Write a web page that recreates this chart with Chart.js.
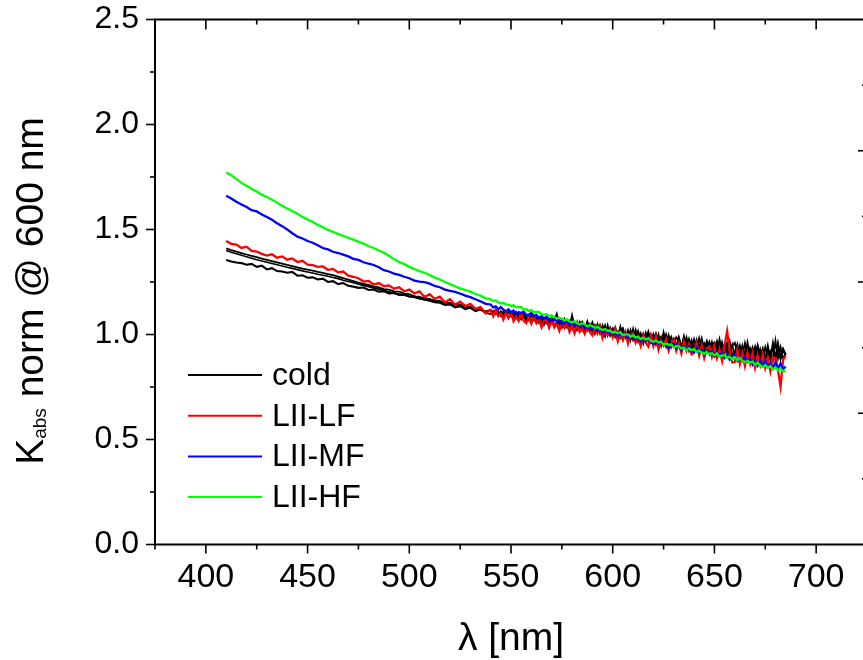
<!DOCTYPE html>
<html><head><meta charset="utf-8">
<script src="https://cdn.jsdelivr.net/npm/chart.js@4.4.1/dist/chart.umd.min.js"></script>
<style>
html,body{margin:0;padding:0;background:#fff;overflow:hidden;}
#wrap{width:863px;height:660px;overflow:hidden;position:relative;background:#fff;}
canvas{display:block;}
</style></head><body>
<div id="wrap"><canvas id="c" width="880" height="660" style="width:880px;height:660px"></canvas></div>
<script>
const wavelength = [
410,412.5,415,417.5,420,422.5,425,427.5,430,432.5,
435,437.5,440,442.5,445,447.5,450,452.5,455,457.5,
460,462.5,465,467.5,470,472.5,475,477.5,480,482.5,
485,487.5,490,492.5,495,497.5,500,502.5,505,507.5,
510,512.5,515,517.5,520,522.5,525,527.5,530,532.5,
535,537.5,
540,541.25,542.5,543.75,545,546.25,547.5,548.75,
550,551.25,552.5,553.75,555,556.25,557.5,558.75,
560,561.25,562.5,563.75,565,566.25,567.5,568.75,
570,571.25,572.5,573.75,575,576.25,577.5,578.75,
580,581.25,582.5,583.75,585,586.25,587.5,588.75,
590,591.25,592.5,593.75,595,596.25,597.5,598.75,
600,601.25,602.5,603.75,605,606.25,607.5,608.75,
610,611.25,612.5,613.75,615,616.25,617.5,618.75,
620,621.25,622.5,623.75,625,626.25,627.5,628.75,
630,631.25,632.5,633.75,635,636.25,637.5,638.75,
640,641.25,642.5,643.75,645,646.25,647.5,648.75,
650,651.25,652.5,653.75,655,656.25,657.5,658.75,
660,661.25,662.5,663.75,665,666.25,667.5,668.75,
670,671.25,672.5,673.75,675,676.25,677.5,678.75,
680,681.25,682.5,683.75,685];

const liiHF = [
1.772,1.758,1.741,1.722,1.708,1.693,1.681,1.666,1.655,1.642,
1.628,1.612,1.600,1.588,1.575,1.560,1.548,1.536,1.522,1.511,
1.498,1.489,1.478,1.470,1.460,1.452,1.442,1.433,1.420,1.412,
1.400,1.389,1.375,1.358,1.345,1.335,1.322,1.312,1.302,1.294,
1.283,1.271,1.262,1.250,1.240,1.229,1.220,1.212,1.204,1.193,
1.185,1.172,
1.167,1.159,1.162,1.154,1.148,1.151,1.143,1.142,
1.136,1.139,1.129,1.130,1.130,1.118,1.120,1.112,
1.115,1.105,1.108,1.108,1.097,1.095,1.097,1.085,
1.091,1.082,1.076,1.080,1.075,1.067,1.073,1.062,
1.058,1.063,1.054,1.048,1.054,1.049,1.039,1.044,
1.040,1.031,1.037,1.027,1.021,1.026,1.018,1.019,
1.009,1.013,1.006,1.011,0.997,1.001,1.001,0.989,
0.997,0.986,0.989,0.978,0.985,0.976,0.982,0.969,
0.965,0.971,0.962,0.966,0.951,0.957,0.950,0.952,
0.938,0.944,0.944,0.933,0.938,0.925,0.934,0.925,
0.931,0.917,0.923,0.915,0.908,0.917,0.907,0.911,
0.901,0.910,0.894,0.900,0.901,0.889,0.894,0.882,
0.892,0.878,0.889,0.875,0.868,0.875,0.866,0.871,
0.856,0.866,0.853,0.845,0.855,0.843,0.850,0.834,
0.844,0.830,0.839,0.823,0.830];

const liiMF = [
1.661,1.648,1.632,1.619,1.607,1.592,1.586,1.571,1.560,1.546,
1.530,1.516,1.500,1.482,1.466,1.457,1.445,1.437,1.425,1.412,
1.405,1.394,1.388,1.380,1.372,1.360,1.355,1.344,1.337,1.331,
1.320,1.306,1.300,1.290,1.284,1.275,1.268,1.257,1.252,1.249,
1.242,1.231,1.225,1.214,1.208,1.203,1.195,1.185,1.178,1.168,
1.158,1.146,
1.143,1.129,1.134,1.120,1.131,1.119,1.110,1.120,
1.105,1.114,1.098,1.107,1.101,1.108,1.093,1.094,
1.102,1.087,1.093,1.077,1.089,1.076,1.084,1.066,
1.064,1.076,1.061,1.068,1.051,1.061,1.062,1.047,
1.058,1.041,1.050,1.039,1.049,1.030,1.037,1.028,
1.026,1.036,1.018,1.028,1.009,1.021,1.011,1.019,
1.000,1.012,0.993,1.008,0.994,1.006,0.984,0.994,
0.997,0.977,0.987,0.969,0.984,0.969,0.982,0.963,
0.956,0.971,0.956,0.969,0.949,0.957,0.938,0.957,
0.955,0.934,0.946,0.926,0.944,0.927,0.942,0.920,
0.917,0.936,0.916,0.927,0.904,0.922,0.908,0.920,
0.896,0.915,0.900,0.914,0.889,0.903,0.881,0.900,
0.901,0.874,0.892,0.873,0.893,0.870,0.884,0.856,
0.877,0.852,0.876,0.853,0.874,0.846,0.861,0.839,
0.868,0.837,0.862,0.836,0.847];

const liiLF = [
1.445,1.432,1.428,1.412,1.418,1.398,1.395,1.384,1.376,1.382,
1.366,1.372,1.356,1.362,1.345,1.351,1.333,1.330,1.322,1.324,
1.308,1.312,1.296,1.300,1.280,1.275,1.268,1.252,1.255,1.238,
1.245,1.230,1.234,1.218,1.225,1.206,1.214,1.196,1.205,1.178,
1.192,1.170,1.180,1.152,1.168,1.142,1.156,1.136,1.146,1.122,
1.130,1.100,
1.117,1.088,1.120,1.090,1.100,1.071,1.104,1.078,
1.103,1.063,1.087,1.065,1.099,1.065,1.054,1.081,
1.052,1.087,1.055,1.074,1.034,1.065,1.070,1.032,
1.070,1.034,1.052,1.017,1.055,1.031,1.055,1.013,
1.042,1.006,1.055,1.013,1.031,1.003,1.037,1.012,
0.996,1.034,1.005,1.035,0.983,1.019,1.000,1.022,
0.986,1.023,0.968,1.003,0.973,1.011,0.957,1.000,
1.006,0.962,0.990,0.946,0.994,0.961,0.943,0.995,
0.945,0.989,0.928,0.972,0.948,0.977,0.923,0.958,
0.974,0.922,0.958,0.910,0.964,0.922,0.954,0.906,
0.912,0.958,0.900,0.946,0.888,0.931,0.943,0.895,
0.943,0.887,0.927,0.874,0.949,1.015,0.920,0.867,
0.869,0.927,0.860,0.910,0.850,0.911,0.861,0.910,
0.842,0.900,0.855,0.907,0.841,0.887,0.826,0.894,
0.885,0.830,0.752,0.880,0.898];

const coldRunA = [
1.410,1.402,1.395,1.388,1.381,1.374,1.368,1.361,1.355,1.349,
1.343,1.337,1.331,1.326,1.320,1.314,1.309,1.304,1.298,1.293,
1.288,1.283,1.276,1.268,1.261,1.254,1.247,1.241,1.236,1.228,
1.224,1.216,1.214,1.205,1.204,1.195,1.192,1.182,1.180,1.170,
1.170,1.158,1.160,1.146,1.150,1.136,1.140,1.126,1.130,1.118,
1.122,1.108,
1.116,1.098,1.118,1.100,1.091,1.109,1.093,1.107,
1.087,1.105,1.077,1.095,1.101,1.074,1.086,1.068,
1.092,1.068,1.084,1.056,1.076,1.056,1.084,1.058,
1.052,1.068,1.099,1.045,1.071,1.039,1.060,1.034,
1.092,1.038,1.058,1.024,1.050,1.024,1.056,1.024,
1.058,1.018,1.043,1.005,1.044,1.012,1.003,1.033,
1.002,1.034,0.992,1.018,1.031,0.987,1.007,0.979,
1.015,0.979,1.017,0.979,1.004,0.968,1.014,0.974,
0.968,1.004,0.958,0.988,0.953,1.001,0.963,0.989,
0.949,0.987,0.969,0.939,0.992,0.944,0.972,0.934,
0.978,0.932,0.983,0.935,0.958,0.920,0.966,0.933,
0.923,0.968,0.914,0.957,0.923,0.960,0.906,0.945,
0.961,0.911,0.948,0.896,0.959,0.901,0.935,0.886,
0.942,0.893,0.931,0.882,0.940,0.895,0.919,0.878,
0.970,0.886,0.940,0.884,0.910];

const coldRunB = [
1.400,1.392,1.384,1.377,1.370,1.363,1.356,1.350,1.344,1.338,
1.332,1.326,1.320,1.315,1.309,1.303,1.298,1.293,1.287,1.282,
1.277,1.271,1.266,1.258,1.252,1.246,1.240,1.234,1.228,1.222,
1.216,1.210,1.204,1.198,1.193,1.187,1.182,1.176,1.170,1.165,
1.160,1.152,1.150,1.140,1.142,1.128,1.134,1.120,1.126,1.110,
1.118,1.102,
1.097,1.113,1.097,1.111,1.088,1.102,1.104,1.084,
1.102,1.082,1.100,1.072,1.086,1.091,1.067,1.083,
1.061,1.085,1.063,1.083,1.051,1.073,1.053,1.077,
1.071,1.039,1.060,1.070,1.038,1.064,1.033,1.055,
1.029,1.059,1.029,1.061,1.019,1.045,1.019,1.049,
1.011,1.045,1.014,1.046,1.003,1.045,0.994,1.020,
1.029,0.987,1.013,0.985,1.022,0.986,1.022,0.972,
1.028,0.976,1.006,0.962,0.997,0.965,1.003,0.963,
1.001,0.953,1.001,0.955,0.986,0.942,0.998,0.952,
0.980,0.936,0.984,0.942,0.969,0.925,0.979,0.933,
0.935,0.977,0.924,0.960,0.915,0.965,0.923,0.966,
0.912,0.955,0.915,0.964,0.908,0.947,0.897,0.952,
0.902,0.946,0.893,0.949,0.902,0.950,0.890,0.935,
0.891,0.946,0.884,0.933,0.879,0.936,0.884,0.949,
0.885,0.961,0.889,0.933,0.907];

const coldRunC = [
1.355,1.348,1.343,1.340,1.332,1.336,1.322,1.328,1.310,1.316,
1.302,1.300,1.294,1.298,1.280,1.282,1.270,1.272,1.262,1.266,
1.250,1.254,1.240,1.245,1.232,1.228,1.222,1.224,1.212,1.214,
1.204,1.206,1.196,1.198,1.188,1.190,1.180,1.182,1.172,1.175,
1.165,1.160,1.156,1.152,1.148,1.140,1.142,1.130,1.132,1.118,
1.124,1.108,
1.116,1.094,1.108,1.088,1.110,1.092,1.108,1.080,
1.102,1.076,1.104,1.078,1.072,1.096,1.070,1.084,
1.062,1.086,1.056,1.078,1.082,1.048,1.074,1.050,
1.076,1.044,1.051,1.067,1.035,1.071,1.040,1.062,
1.028,1.054,1.022,1.048,1.060,1.020,1.060,1.018,
1.044,1.006,1.047,1.013,1.032,0.994,1.041,0.997,
1.026,0.996,0.986,1.034,0.987,1.007,0.975,1.019,
0.977,1.019,0.969,1.003,0.960,1.006,0.970,0.998,
0.998,0.962,0.984,0.948,1.007,0.951,0.983,0.943,
0.975,0.941,0.985,0.941,0.948,0.984,0.928,0.970,
0.928,0.964,0.937,0.979,0.926,0.964,0.912,0.951,
0.961,0.918,0.974,0.911,0.949,0.916,0.964,0.903,
0.913,0.951,0.898,0.938,0.891,0.959,0.897,0.936,
0.890,0.945,0.893,0.928,0.880,0.943,0.883,0.956,
0.882,0.948,0.884,0.928,0.902];

const xTicks = [400,450,500,550,600,650,700];
const xMinorTicks = [375,425,475,525,575,625,675,725];
const yTicks = [0,0.5,1.0,1.5,2.0,2.5];
const yMinorTicks = [0.25,0.75,1.25,1.75,2.25];
const rightTicks = [1,2,3];
const rightMinorTicks = [0.5,1.5,2.5,3.5];
const legendLabels = ['cold','LII-LF','LII-MF','LII-HF'];
const legendColors = ['#000000','#ff0000','#0000ff','#00ff00'];

const FONT = '"Liberation Sans", Arial, Helvetica, sans-serif';
const NARROW = '"Liberation Sans Narrow", "Arial Narrow", "Liberation Sans", Arial, sans-serif';
Chart.defaults.font.family = FONT;
Chart.defaults.color = '#000';

function mk(label, vals, color, order, width){
  return {label, data: wavelength.map((w,i)=>({x:w, y:vals[i]})),
    borderColor:color, backgroundColor:color, borderWidth:width,
    pointRadius:0, tension:0, fill:false, order};
}

const datasets = [
  mk('LII-HF', liiHF, '#00ff00', 0, 2.3),
  mk('LII-MF', liiMF, '#0000ff', 1, 2.3),
  mk('LII-LF', liiLF, '#ff0000', 2, 2.3),
  mk('cold', coldRunA, '#000000', 3, 1.8),
  mk('cold', coldRunB, '#000000', 3, 1.6),
  mk('cold', coldRunC, '#000000', 3, 2.1)
];

const framePlugin = {
  id:'frame',
  afterDraw(chart){
    const {ctx, chartArea:a, scales} = chart;
    const x = scales.x, y = scales.y, y2 = scales.y2;
    ctx.save();
    ctx.strokeStyle = '#000';
    const seg=(x1,y1,x2,y2b)=>{ctx.beginPath();ctx.moveTo(x1,y1);ctx.lineTo(x2,y2b);ctx.stroke();};
    ctx.lineWidth = 1.6;
    xTicks.forEach(v=>{const p=x.getPixelForValue(v); seg(p,a.bottom,p,a.bottom+9); seg(p,a.top,p,a.top+10);});
    xMinorTicks.forEach(v=>{const p=x.getPixelForValue(v); seg(p,a.bottom,p,a.bottom+5); seg(p,a.top,p,a.top+5);});
    yTicks.forEach(v=>{const p=y.getPixelForValue(v); seg(a.left-9,p,a.left,p);});
    yMinorTicks.forEach(v=>{const p=y.getPixelForValue(v); seg(a.left-5,p,a.left,p);});
    rightTicks.forEach(v=>{const p=y2.getPixelForValue(v); seg(a.right-9,p,a.right,p);});
    rightMinorTicks.forEach(v=>{const p=y2.getPixelForValue(v); seg(a.right-5,p,a.right,p);});
    ctx.lineWidth = 2;
    ctx.strokeRect(a.left, a.top, a.right-a.left, a.bottom-a.top);
    // legend
    ctx.font = '32px ' + FONT;
    ctx.textBaseline = 'middle';
    ctx.textAlign = 'left';
    legendLabels.forEach((t,i)=>{
      const yy = 375 + i*40.7;
      ctx.strokeStyle = legendColors[i]; ctx.lineWidth = 2;
      seg(188, yy, 262, yy);
      ctx.fillStyle = '#000';
      ctx.fillText(t, 272, yy+1);
    });
    // y title with subscript
    ctx.save();
    ctx.translate(43, 291);
    ctx.rotate(-Math.PI/2);
    ctx.fillStyle = '#000';
    ctx.textBaseline = 'alphabetic';
    const big = '39px ' + FONT, small = '19px ' + FONT;
    ctx.font = big; const w1 = ctx.measureText('K').width; const w3 = ctx.measureText(' norm @ 600 nm').width;
    ctx.font = small; const w2 = ctx.measureText('abs').width;
    let sx = -(w1+w2+w3)/2;
    ctx.font = big; ctx.fillText('K', sx, 0); sx += w1;
    ctx.font = small; ctx.fillText('abs', sx, 3); sx += w2;
    ctx.font = big; ctx.fillText(' norm @ 600 nm', sx, 0);
    ctx.restore();
    ctx.restore();
  }
};

new Chart(document.getElementById('c'), {
  type:'line',
  data:{datasets},
  options:{
    responsive:false, animation:false, devicePixelRatio:1,
    layout:{padding:{top:19.5, right:13, left:0, bottom:0}},
    plugins:{legend:{display:false}, tooltip:{enabled:false}},
    scales:{
      x:{type:'linear', position:'bottom', min:375, max:725,
        afterBuildTicks:s=>{s.ticks = xTicks.map(v=>({value:v}));},
        afterFit:s=>{s.height = 115.5; s.paddingLeft = 0; s.paddingRight = 0;},
        grid:{display:false, drawTicks:false}, border:{display:false},
        ticks:{color:'#000', font:{size:34, family:NARROW}, padding:13, maxRotation:0, autoSkip:false, callback:v=>String(v)},
        title:{display:true, text:'λ [nm]', color:'#000', font:{size:39}, padding:{top:0, bottom:-3}}
      },
      y:{type:'linear', position:'left', min:0, max:2.5,
        afterBuildTicks:s=>{s.ticks = yTicks.map(v=>({value:v}));},
        afterFit:s=>{s.width = 155; s.paddingTop = 0; s.paddingBottom = 0;},
        grid:{display:false, drawTicks:false}, border:{display:false},
        ticks:{color:'#000', font:{size:32}, padding:16, callback:v=>Number(v).toFixed(1)}
      },
      y2:{type:'linear', position:'right', min:0, max:4,
        afterBuildTicks:s=>{s.ticks = rightTicks.map(v=>({value:v}));},
        afterFit:s=>{s.width = 0; s.paddingTop = 0; s.paddingBottom = 0;},
        grid:{display:false, drawTicks:false}, border:{display:false},
        ticks:{display:false}
      }
    }
  },
  plugins:[framePlugin]
});
</script>
</body></html>
